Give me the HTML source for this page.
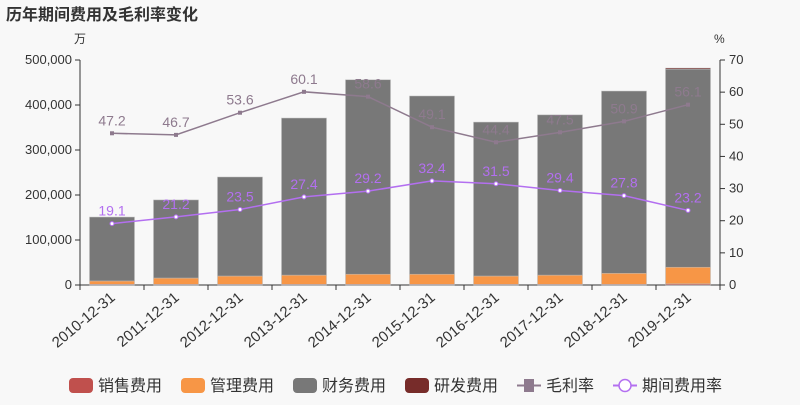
<!DOCTYPE html>
<html><head><meta charset="utf-8">
<style>
body{margin:0;background:#f8f8f8;font-family:"Liberation Sans","Noto Sans CJK SC",sans-serif;}
svg text{font-family:"Liberation Sans","Noto Sans CJK SC",sans-serif;}
</style></head>
<body>
<svg id="c" width="800" height="400">
<text x="6" y="20" font-size="16" font-weight="bold" fill="#333">历年期间费用及毛利率变化</text>
<text x="74" y="43" font-size="12" fill="#333">万</text>
<text x="714" y="43" font-size="12" fill="#333">%</text>
<g id="plot"></g>
<g id="legend"></g>
</svg>
<script>
const years=["2010-12-31","2011-12-31","2012-12-31","2013-12-31","2014-12-31","2015-12-31","2016-12-31","2017-12-31","2018-12-31","2019-12-31"];
const sales=[1500,1500,1500,1500,1500,1500,1500,1500,1500,2500];
const admin=[7500,14000,18500,20500,22500,22500,18500,20500,24500,37000];
const finance=[142000,173500,220000,349000,432000,396000,342000,356000,405000,440000];
const rnd=[0,0,0,0,0,0,0,0,0,2500];
const gross=[47.2,46.7,53.6,60.1,58.6,49.1,44.4,47.5,50.9,56.1];
const expRate=[19.1,21.2,23.5,27.4,29.2,32.4,31.5,29.4,27.8,23.2];
const leftTicks=[0,100000,200000,300000,400000,500000];
const rightTicks=[0,10,20,30,40,50,60,70];
const NS="http://www.w3.org/2000/svg";
const L=80,R=720,T=60,B=285;
const yL=v=>B-(v/500000)*(B-T);
const yR=v=>B-(v/70)*(B-T);
const band=(R-L)/years.length;
const xC=i=>L+band*(i+0.5);
const plot=document.getElementById('plot');
function mk(tag,attrs,parent){const e=document.createElementNS(NS,tag);for(const k in attrs)e.setAttribute(k,attrs[k]);(parent||plot).appendChild(e);return e;}
// axes
let ax=mk('line',{x1:L,y1:T,x2:L,y2:B,stroke:'#333'});


ax=mk('line',{x1:R,y1:T,x2:R,y2:B,stroke:'#333'});


ax=mk('line',{x1:L,y1:B,x2:R,y2:B,stroke:'#333'});


leftTicks.forEach(v=>{mk('line',{x1:L-5,x2:L,y1:yL(v),y2:yL(v),stroke:'#333'});
 const t=mk('text',{x:L-8,y:yL(v)+4,'text-anchor':'end','font-size':13,fill:'#333'});t.textContent=v.toLocaleString('en-US');
 
 });
rightTicks.forEach(v=>{mk('line',{x1:R,x2:R+5,y1:yR(v),y2:yR(v),stroke:'#333'});
 const t=mk('text',{x:R+9,y:yR(v)+4,'font-size':13,fill:'#333'});t.textContent=v;
 
 });
for(let i=0;i<=years.length;i++)mk('line',{x1:L+band*i,x2:L+band*i,y1:B,y2:B+5,stroke:'#333'});
years.forEach((y,i)=>{const t=mk('text',{x:xC(i)+4,y:B+14,'text-anchor':'end','font-size':15,fill:'#333',transform:`rotate(-40 ${xC(i)+4} ${B+14})`});t.textContent=y;
 
 });
// bars
const series=[[sales,'#c0504d','bar-sales'],[admin,'#f79646','bar-admin'],[finance,'#787878','bar-finance'],[rnd,'#772c2a','bar-rnd']];
years.forEach((y,i)=>{let acc=0;series.forEach(([arr,col,name])=>{const v=arr[i];if(v<=0)return;
 const r=mk('rect',{x:xC(i)-22.5,width:45,y:yL(acc+v),height:yL(acc)-yL(acc+v),fill:col,stroke:'#bbb','stroke-width':0.5});
 
 acc+=v;});});
// lines
function line(arr,col,name,sq){const pts=arr.map((v,i)=>xC(i)+','+yR(v)).join(' ');
 const p=mk('polyline',{points:pts,fill:'none',stroke:col,'stroke-width':1.5});
 
 
 arr.forEach((v,i)=>{const m=sq?mk('rect',{x:xC(i)-2,y:yR(v)-2,width:4,height:4,fill:col}):mk('circle',{cx:xC(i),cy:yR(v),r:2,fill:'#fff',stroke:col});
  
  
  const t=mk('text',{x:xC(i),y:yR(v)-8,'text-anchor':'middle','font-size':14,fill:col});t.textContent=v.toFixed(1);
  
  });}
line(gross,'#8e7a8e','gross-margin',true);
line(expRate,'#b36ff0','expense-rate',false);
// legend
const lg=document.getElementById('legend');
const items=[['销售费用','#c0504d','box'],['管理费用','#f79646','box'],['财务费用','#787878','box'],['研发费用','#772c2a','box'],['毛利率','#8e7a8e','sq'],['期间费用率','#b36ff0','circ']];
const lx=[69,181,293,405,517,613];
items.forEach(([n,c,t],i)=>{const x=lx[i];let m;
 if(t==='box')m=mk('rect',{x:x,y:378,width:24,height:15,rx:4,fill:c},lg);
 else{mk('line',{x1:x,x2:x+24,y1:385.5,y2:385.5,stroke:c,'stroke-width':2},lg);
  m=t==='sq'?mk('rect',{x:x+7,y:379,width:10,height:13,fill:c},lg):mk('circle',{cx:x+12,cy:385.5,r:6,fill:'#fff',stroke:c,'stroke-width':1.5},lg);}
 
 
 const tx=mk('text',{x:x+29,y:391,'font-size':16,fill:'#333'},lg);tx.textContent=n;
 
 });
</script>
</body></html>
